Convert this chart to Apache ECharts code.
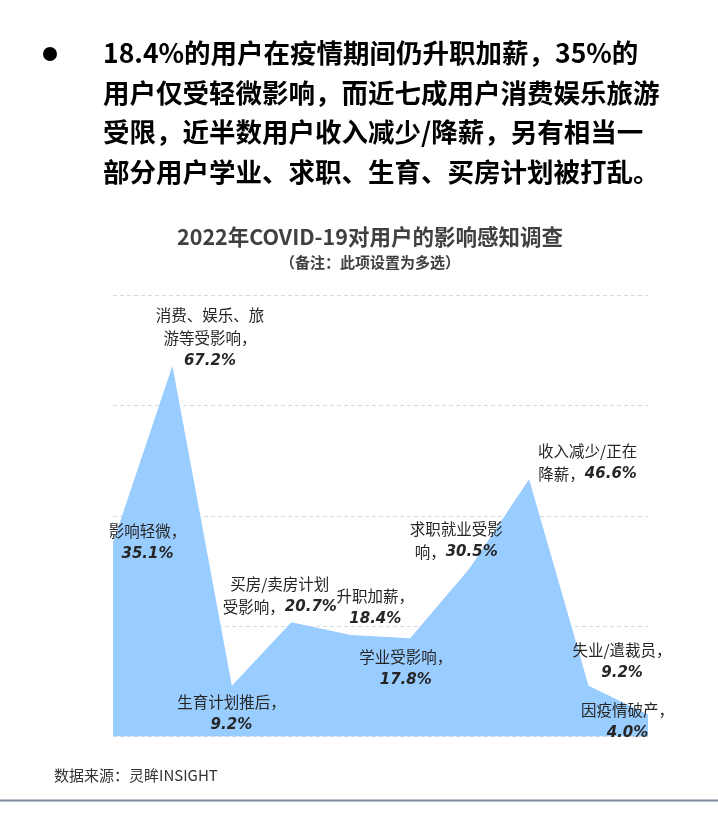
<!DOCTYPE html>
<html>
<head>
<meta charset="utf-8">
<script src="https://cdn.jsdelivr.net/npm/echarts@6/dist/echarts.min.js"></script>
<style>
  html, body { margin: 0; padding: 0; background: #fff; }
  #chart { width: 718px; height: 831px; }
</style>
</head>
<body>
<div id="chart"></div>
<script>
// 数据
const categories = ['影响轻微', '消费、娱乐、旅游等受影响', '生育计划推后', '买房/卖房计划受影响', '升职加薪',
  '学业受影响', '求职就业受影响', '收入减少/正在降薪', '失业/遣裁员', '因疫情破产'];
const values = [35.1, 67.2, 9.2, 20.7, 18.4, 17.8, 30.5, 46.6, 9.2, 4.0];
// 标签换行，{v} 处填数值
const labelLines = [
  ['影响轻微，', '{v}'],
  ['消费、娱乐、旅', '游等受影响，', '{v}'],
  ['生育计划推后，', '{v}'],
  ['买房/卖房计划', '受影响，{v}'],
  ['升职加薪，', '{v}'],
  ['学业受影响，', '{v}'],
  ['求职就业受影', '响，{v}'],
  ['收入减少/正在', '降薪，{v}'],
  ['失业/遣裁员，', '{v}'],
  ['因疫情破产，', '{v}']
];
const yTicks = [0, 20, 40, 60, 80];
const headLines = [
  '18.4%的用户在疫情期间仍升职加薪，35%的',
  '用户仅受轻微影响，而近七成用户消费娱乐旅游',
  '受限，近半数用户收入减少/降薪，另有相当一',
  '部分用户学业、求职、生育、买房计划被打乱。'
];
const chartTitle = '2022年COVID-19对用户的影响感知调查';
const chartNote = '（备注：此项设置为多选）';
const source = '数据来源：灵眸INSIGHT';

(function () {
  const myChart = echarts.init(document.getElementById('chart'));
  const cjk = '"Noto Sans CJK SC", sans-serif';

  // 标签相对数据点的位置（像素）
  const labelPos = [[35, 0], [38, -27], [0, 28], [-11, -26], [25, -27],
    [-4, 31], [-13, -27], [59, -16], [34, -24], [-20, 8]];

  function labelText(i) {
    return labelLines[i].map(function (line) {
      return line.split('{v}').map(function (part, k, arr) {
        let s = part ? '{n|' + part + '}' : '';
        if (k < arr.length - 1) s += '{v|' + values[i].toFixed(1) + '%}';
        return s;
      }).join('');
    }).join('\n');
  }

  const seriesData = values.map(function (v, i) {
    return {
      value: v,
      name: categories[i],
      label: {
        show: true,
        position: labelPos[i],
        align: 'center',
        verticalAlign: 'middle',
        formatter: labelText(i)
      }
    };
  });

  const graphics = [{
    type: 'circle',
    shape: { cx: 50, cy: 54, r: 7 },
    style: { fill: '#000' }
  }];
  headLines.forEach(function (t, i) {
    graphics.push({
      type: 'text',
      left: 103,
      top: 40 + i * 39.5,
      style: { text: t, font: 'bold 26.5px ' + cjk, fill: '#000' }
    });
  });
  graphics.push({
    type: 'text', x: 370, y: 237,
    style: { text: chartTitle, font: 'bold 21.5px ' + cjk, fill: '#404040', align: 'center', verticalAlign: 'middle' }
  }, {
    type: 'text', x: 370, y: 262,
    style: { text: chartNote, font: 'bold 15px ' + cjk, fill: '#404040', align: 'center', verticalAlign: 'middle' }
  }, {
    type: 'text', x: 54, y: 775,
    style: { text: source, font: '15px ' + cjk, fill: '#333', verticalAlign: 'middle' }
  }, {
    type: 'line',
    shape: { x1: 0, y1: 800.5, x2: 718, y2: 800.5 },
    style: { stroke: '#7f8aa0', lineWidth: 2 }
  });

  let option = {
    animation: false,
    grid: {
      left: 113,
      right: 70,
      top: 295,
      bottom: 94.5
    },
    xAxis: {
      type: 'category',
      boundaryGap: false,
      data: categories,
      axisLine: { show: false },
      axisTick: { show: false },
      axisLabel: { show: false }
    },
    yAxis: {
      type: 'value',
      min: yTicks[0],
      max: yTicks[yTicks.length - 1],
      interval: yTicks[1] - yTicks[0],
      axisLine: { show: false },
      axisTick: { show: false },
      axisLabel: { show: false },
      splitLine: {
        lineStyle: { color: '#d9d9d9', type: [4, 3], width: 1 }
      }
    },
    series: [{
      type: 'line',
      data: seriesData,
      symbol: 'circle',
      symbolSize: 1,
      itemStyle: { color: 'rgba(0,0,0,0)' },
      lineStyle: { width: 0 },
      areaStyle: { color: '#99ccff', opacity: 1 },
      label: {
        color: '#262626',
        rich: {
          n: { fontFamily: cjk, fontSize: 15.5, color: '#262626', lineHeight: 23 },
          v: { fontFamily: '"DejaVu Sans", sans-serif', fontWeight: 'bold', fontStyle: 'italic',
            fontSize: 15, color: '#262626', lineHeight: 23 }
        }
      }
    }],
    graphic: graphics
  };
  myChart.setOption(option);
  window.addEventListener('resize', function () {
    myChart.resize();
  });
})();
</script>
</body>
</html>
